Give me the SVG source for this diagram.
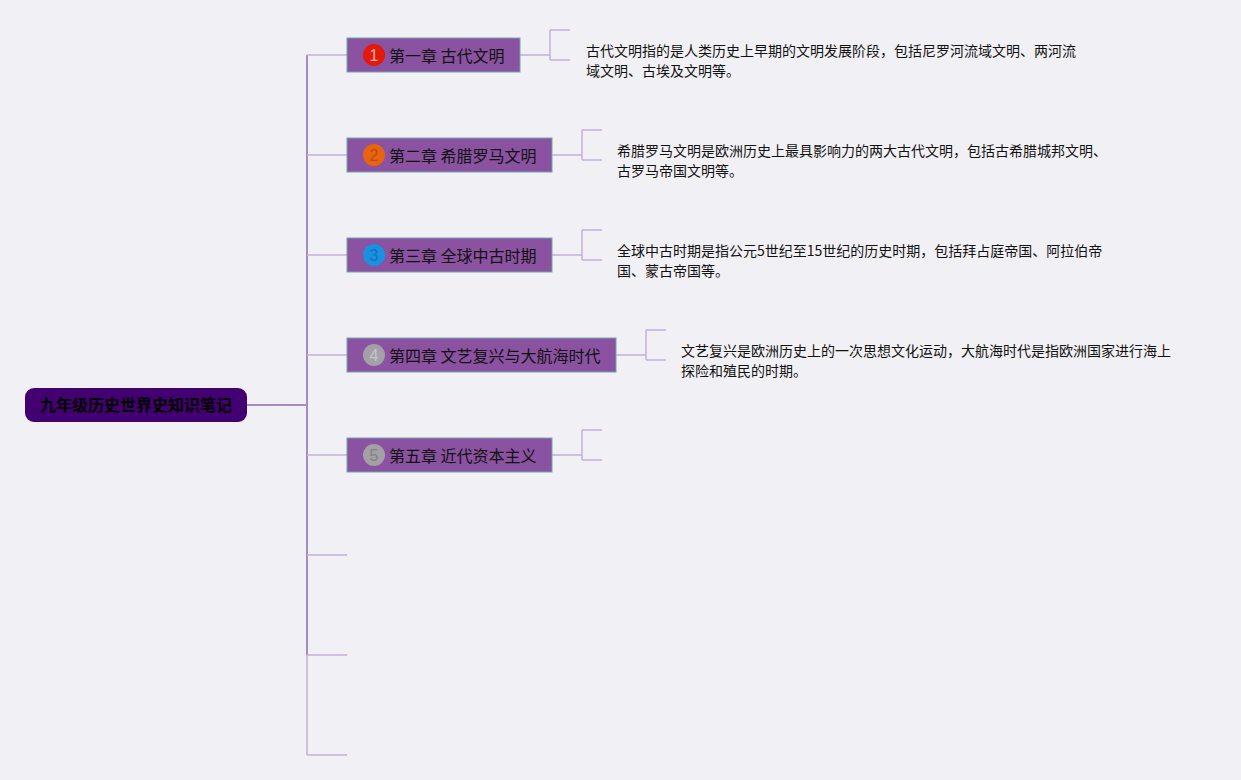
<svg xmlns="http://www.w3.org/2000/svg" width="1241" height="780" viewBox="0 0 1241 780">
<style>
.cjk{font-family:"Noto Sans CJK SC","Noto Sans",sans-serif}
.node{fill:#8a52a0;stroke:#6fa9ab;stroke-width:1}
.ntxt{font-size:16px;fill:#111}
.num{font-size:16px;font-family:"Liberation Sans","Noto Sans",sans-serif;text-anchor:middle}
.desc{font-size:14px;fill:#111}
.main{fill:none;stroke:#a48cc6;stroke-width:2}
.br{fill:none;stroke:#c3afd9;stroke-width:1.5}
</style>
<rect width="1241" height="780" fill="#f1f0f4"/>
<g id="connectors">
<path class="main" d="M247 405H307M307 55V655"/>
<path class="br" d="M307 655V755"/>
<path class="br" d="M307 55H347M307 155H347M307 255H347M307 355H347M307 455H347M307 555H347M307 655H347M307 755H347"/>
<path class="br" d="M520 55H550M550 30V60M550 30H570M550 60H570"/>
<path class="br" d="M552 155H582M582 130V160M582 130H602M582 160H602"/>
<path class="br" d="M552 255H582M582 230V260M582 230H602M582 260H602"/>
<path class="br" d="M616 355H646M646 330V360M646 330H666M646 360H666"/>
<path class="br" d="M552 455H582M582 430V460M582 430H602M582 460H602"/>
</g>
<g id="root">
<rect x="25" y="388" width="222" height="34" rx="9" fill="#420070"/>
<text class="cjk" x="136" y="411" font-size="16" font-weight="bold" text-anchor="middle" fill="#000">九年级历史世界史知识笔记</text>
</g>
<g id="n1">
<rect class="node" x="347" y="38" width="173" height="34"/>
<circle cx="374" cy="55" r="11" fill="#e3190c"/>
<text class="num" x="374" y="61" fill="#f7b0a8">1</text>
<text class="cjk ntxt" x="389" y="62">第一章 古代文明</text>
</g>
<g id="d1">
<text class="cjk desc" x="586" y="56">古代文明指的是人类历史上早期的文明发展阶段，包括尼罗河流域文明、两河流</text>
<text class="cjk desc" x="586" y="76">域文明、古埃及文明等。</text>
</g>
<g id="n2">
<rect class="node" x="347" y="138" width="205" height="34"/>
<circle cx="374" cy="155" r="11" fill="#e8640f"/>
<text class="num" x="374" y="161" fill="#c24a08">2</text>
<text class="cjk ntxt" x="389" y="162">第二章 希腊罗马文明</text>
</g>
<g id="d2">
<text class="cjk desc" x="617" y="156">希腊罗马文明是欧洲历史上最具影响力的两大古代文明，包括古希腊城邦文明、</text>
<text class="cjk desc" x="617" y="176">古罗马帝国文明等。</text>
</g>
<g id="n3">
<rect class="node" x="347" y="238" width="205" height="34"/>
<circle cx="374" cy="255" r="11" fill="#1a90e0"/>
<text class="num" x="374" y="261" fill="#1470b8">3</text>
<text class="cjk ntxt" x="389" y="262">第三章 全球中古时期</text>
</g>
<g id="d3">
<text class="cjk desc" x="617" y="256">全球中古时期是指公元5世纪至15世纪的历史时期，包括拜占庭帝国、阿拉伯帝</text>
<text class="cjk desc" x="617" y="276">国、蒙古帝国等。</text>
</g>
<g id="n4">
<rect class="node" x="347" y="338" width="269" height="34"/>
<circle cx="374" cy="355" r="11" fill="#a3a0a6"/>
<text class="num" x="374" y="361" fill="#c7c2cc">4</text>
<text class="cjk ntxt" x="389" y="362">第四章 文艺复兴与大航海时代</text>
</g>
<g id="d4">
<text class="cjk desc" x="681" y="356">文艺复兴是欧洲历史上的一次思想文化运动，大航海时代是指欧洲国家进行海上</text>
<text class="cjk desc" x="681" y="376">探险和殖民的时期。</text>
</g>
<g id="n5">
<rect class="node" x="347" y="438" width="205" height="34"/>
<circle cx="374" cy="455" r="11" fill="#a3a0a6"/>
<text class="num" x="374" y="461" fill="#857f8a">5</text>
<text class="cjk ntxt" x="389" y="462">第五章 近代资本主义</text>
</g>
</svg>
